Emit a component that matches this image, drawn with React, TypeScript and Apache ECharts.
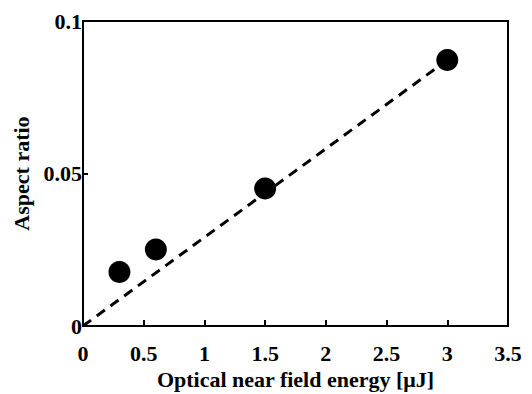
import React, { useEffect, useRef } from "react";
import * as echarts from "echarts";

const energy = [0.3, 0.6, 1.5, 3.0];
const aspectRatio = [0.0177, 0.0251, 0.0451, 0.0872];
const fitX = [0, 3.0];
const fitY = [0, 0.0872];
const xTitle = "Optical near field energy [\u03bcJ]";
const yTitle = "Aspect ratio";

const FONT = "'Liberation Serif', 'Times New Roman', serif";

export default function App() {
  const ref = useRef<HTMLDivElement>(null);
  useEffect(() => {
    if (!ref.current) return;
    const chart = echarts.init(ref.current, undefined, { renderer: "svg" });
    chart.setOption({
      animation: false,
      backgroundColor: "#fff",
      grid: {
        left: 83,
        top: 21,
        right: 24,
        bottom: 68,
        show: true,
        borderColor: "#000",
        borderWidth: 2,
        containLabel: false,
        outerBoundsMode: "none",
      },
      xAxis: {
        type: "value",
        min: 0,
        max: 3.5,
        interval: 0.5,
        name: xTitle,
        nameLocation: "middle",
        nameGap: 39,
        nameTextStyle: { fontFamily: FONT, fontWeight: "bold", fontSize: 22, color: "#000" },
        axisLine: { show: true, lineStyle: { color: "#000", width: 2 } },
        axisTick: { show: true, inside: true, length: 6, lineStyle: { color: "#000", width: 2 } },
        axisLabel: {
          fontFamily: FONT,
          fontWeight: "bold",
          fontSize: 22,
          color: "#000",
          margin: 16,
        },
        splitLine: { show: false },
      },
      yAxis: {
        type: "value",
        min: 0,
        max: 0.1,
        interval: 0.05,
        name: yTitle,
        nameLocation: "middle",
        nameGap: 50,
        nameRotate: 90,
        nameTextStyle: { fontFamily: FONT, fontWeight: "bold", fontSize: 22, color: "#000" },
        axisLine: { show: true, lineStyle: { color: "#000", width: 2 } },
        axisTick: { show: true, inside: true, length: 5, lineStyle: { color: "#000", width: 2 } },
        axisLabel: {
          fontFamily: FONT,
          fontWeight: "bold",
          fontSize: 22,
          color: "#000",
          margin: 1,
          formatter: (v: number) => (v === 0 ? "0" : String(v)),
        },
        splitLine: { show: false },
      },
      series: [
        {
          type: "line",
          data: fitX.map((x, i) => [x, fitY[i]]),
          symbol: "none",
          lineStyle: { color: "#000", width: 3, type: [10, 7] },
          z: 2,
        },
        {
          type: "scatter",
          data: energy.map((x, i) => [x, aspectRatio[i]]),
          symbol: "circle",
          symbolSize: 22,
          itemStyle: { color: "#000", opacity: 1 },
          z: 3,
        },
      ],
    });
    return () => chart.dispose();
  }, []);
  return <div ref={ref} style={{ width: 532, height: 394, position: "absolute", left: 0, top: 0 }} />;
}
